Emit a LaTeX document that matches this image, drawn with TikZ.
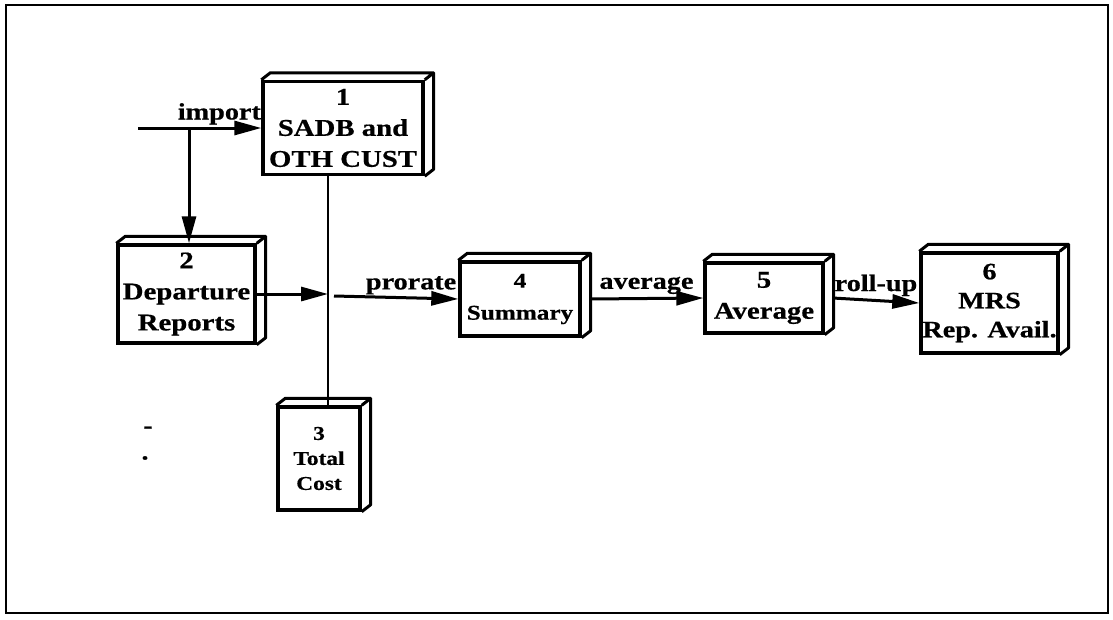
\documentclass[tikz,border=0pt]{standalone}
\usepackage{fontspec}
\setmainfont{Liberation Serif}[FakeStretch=1.2,FakeBold=0.6]
\usetikzlibrary{arrows.meta,calc}
\newcommand\drawdepth[1]{%
  \draw[ext] (#1.north west) -- ++(9,-7) -- ($(#1.north east)+(9,-7)$)
    -- ($(#1.south east)+(9,-7)$) -- (#1.south east)
    (#1.north east) -- ++(9,-7);}
\begin{document}
\begin{tikzpicture}[x=1pt,y=-1pt,
  box/.style={draw, line width=3.4pt, inner sep=0pt, align=center,
    font=\fontsize{24}{31}\selectfont\bfseries},
  ext/.style={line width=3pt, line join=round},
  flow/.style={line width=3pt, -{Triangle[length=27pt,width=14pt]}},
  plain/.style={line width=2.4pt},
  lab/.style={font=\fontsize{23.5}{28}\selectfont\bfseries, inner sep=1pt}]
\useasboundingbox (0,0) rectangle (1113,619);
\draw[line width=2.8pt] (6,5) rectangle (1108,613);

\node[box, minimum width=160pt, minimum height=93pt] (b1) at (343,128) {1\\SADB and\\OTH CUST};
\node[box, minimum width=137pt, minimum height=98pt] (b2) at (186.5,294) {2\\Departure\\Reports};
\node[box, minimum width=82pt, minimum height=103pt, font=\fontsize{19.5}{25}\selectfont\bfseries] (b3) at (319,458.5) {3\\Total\\Cost};
\node[box, minimum width=120pt, minimum height=74pt, font=\fontsize{21}{32}\selectfont\bfseries] (b4) at (520,299) {4\\Summary};
\node[box, minimum width=118pt, minimum height=70pt] (b5) at (764,298) {5\\Average};
\node[box, minimum width=137pt, minimum height=100pt, font=\fontsize{23.5}{29}\selectfont\bfseries] (b6) at (989.5,303) {6\\MRS\\Rep. Avail.};
\foreach \n in {b1,b2,b3,b4,b5,b6} {\drawdepth{\n}}

\coordinate (imp) at (138,128);
\coordinate (j1) at (189,128);
\coordinate (vx) at (328,300);
\coordinate (p0) at (334,296);

\draw[flow] (imp) -- (imp -| b1.west) node[lab, pos=0.66, above=1pt] {import};
\draw[flow] (j1) -- (j1 |- b2.north);
\draw[plain] (b1.south -| vx) -- (b3.north -| vx);
\draw[flow] (b2.east) -- (b2.east -| vx);
\draw[flow] (p0) -- (b4.west) node[lab, pos=0.62, above=1pt] {prorate};
\draw[flow] ($(b4.east)+(8,0)$) -- (b5.west) node[lab, pos=0.5, above=2pt] {average};
\draw[flow] ($(b5.east)+(8,0)$) -- (b6.west) node[lab, pos=0.5, above=2pt] {roll-up};

\node[lab] (dash) at (148,430) {-};
\node[lab] (dot) at (145,458) {.};
\end{tikzpicture}
\end{document}
